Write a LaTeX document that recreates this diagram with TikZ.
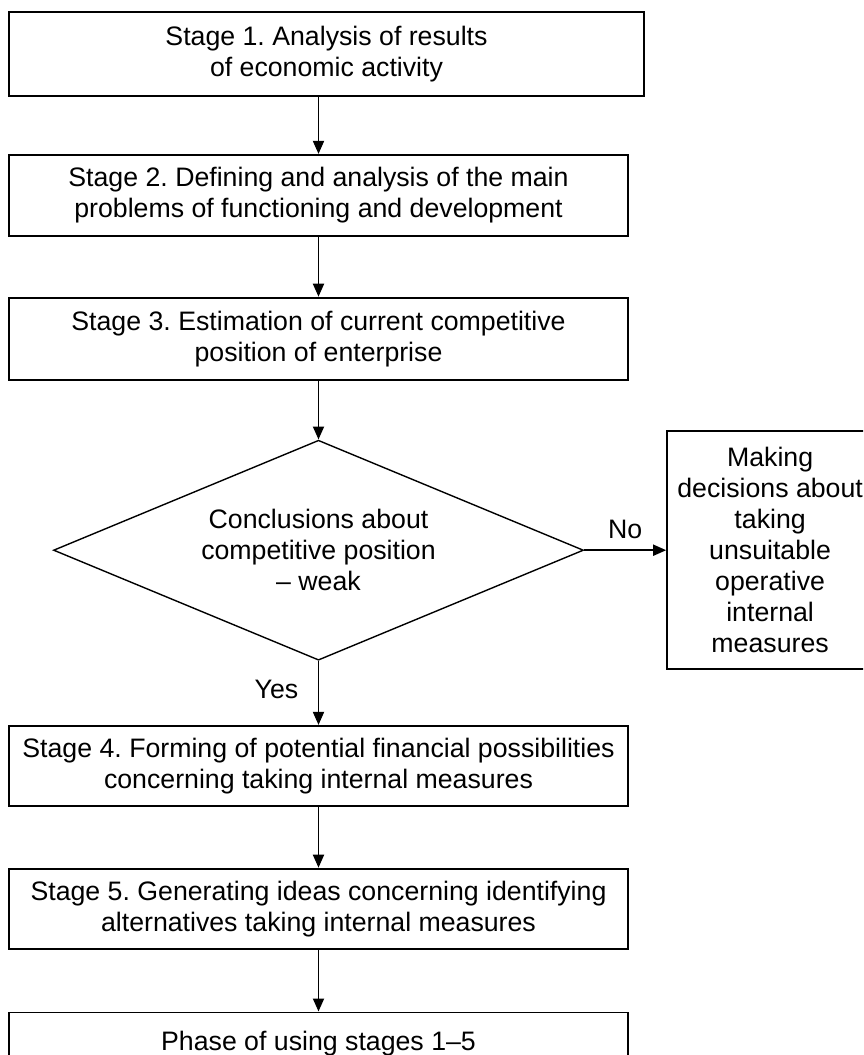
\documentclass[tikz,border=0pt]{standalone}
\usepackage{fontspec}
\setmainfont{Liberation Sans}
\usepackage{tikz}
\usetikzlibrary{shapes.geometric,positioning,arrows.meta}
\frenchspacing

\tikzset{
	stage/.style={draw, minimum width=619pt, minimum height=81pt, inner sep=0pt, align=center},
	decision/.style={diamond, draw, line width=1.4pt, aspect=2.4, minimum width=530pt, minimum height=220pt, inner sep=0pt, align=center},
	outcome/.style={draw, minimum width=206pt, minimum height=238pt, inner sep=0pt, align=center}
}

\begin{document}
\begin{tikzpicture}[->,>={Triangle[length=13pt,width=11pt]},line width=1.8pt,font=\fontsize{26.7}{31}\selectfont]
	\clip (0,0) rectangle (863pt,-1055pt);
	\node[stage,minimum width=635pt,minimum height=84pt] (st1) at (326.5pt,-54pt) {Stage 1. Analysis of results\\of economic activity};
	\node[stage] (st2) [below=57pt of st1,xshift=-8pt] {Stage 2. Defining and analysis of the main\\problems of functioning and development};
	\node[stage,minimum height=82pt] (st3) [below=60pt of st2] {Stage 3. Estimation of current competitive\\position of enterprise};
	\node[decision] (dec) [below=59pt of st3] {Conclusions about\\competitive position\\– weak};
	\node[outcome] (meas) [right=82pt of dec] {Making\\decisions about\\taking\\unsuitable\\operative\\internal\\measures};
	\node[stage,minimum height=80pt] (st4) [below=64pt of dec] {Stage 4. Forming of potential financial possibilities\\concerning taking internal measures};
	\node[stage,minimum height=80pt] (st5) [below=61pt of st4] {Stage 5. Generating ideas concerning identifying\\alternatives taking internal measures};
	\node[stage,minimum height=62pt] (phase) [below=62pt of st5] {Phase of using stages 1–5};
	
	\draw (st2.north |- st1.south) -- (st2.north);
	\draw (st2) -- (st3);
	\draw (st3) -- (dec);
	\draw (dec) -- node[above=7pt]{No} (meas);
	\draw (dec) -- node[left=16pt,pos=0.44]{Yes} (st4);
	\draw (st5) -- (phase);
	\draw (st4) -- (st5);
\end{tikzpicture}
\end{document}
